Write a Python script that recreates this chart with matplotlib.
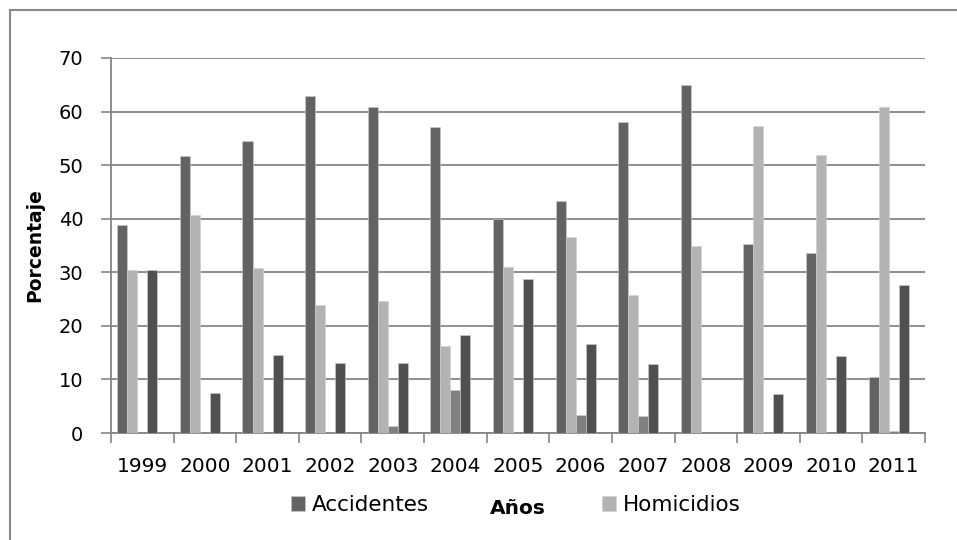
import matplotlib
matplotlib.use("Agg")
import matplotlib.pyplot as plt
import numpy as np
from matplotlib.lines import Line2D

years = ["1999", "2000", "2001", "2002", "2003", "2004", "2005", "2006",
         "2007", "2008", "2009", "2010", "2011"]
accidentes = [38.8, 51.8, 54.5, 62.9, 60.8, 57.1, 40.0, 43.3, 58.0, 65.0, 35.2, 33.7, 10.5]
homicidios = [30.5, 40.7, 30.9, 23.9, 24.6, 16.3, 31.0, 36.6, 25.7, 34.9, 57.3, 51.9, 60.9]
serie3 = [0, 0, 0, 0, 1.4, 8.1, 0, 3.3, 3.2, 0, 0, 0, 0.4]
serie4 = [30.5, 7.4, 14.5, 13.0, 13.0, 18.3, 28.8, 16.6, 12.8, 0, 7.3, 14.3, 27.7]
serie5 = [0] * 13
yticks = [0, 10, 20, 30, 40, 50, 60, 70]

plt.rcParams['font.family'] = ['DejaVu Sans']

fig = plt.figure(figsize=(9.57, 5.40), dpi=100)
ax = fig.add_axes([0.116, 0.198, 0.8505, 0.6946])

x = np.arange(len(years))
w = 0.16
series = [(accidentes, "#636363", "Accidentes"),
          (homicidios, "#b3b3b3", "Homicidios"),
          (serie3, "#808080", None),
          (serie4, "#505050", None),
          (serie5, "#9a9a9a", None)]
handles = []
for i, (vals, col, lab) in enumerate(series):
    b = ax.bar(x + (i - 2) * w, vals, width=w, color=col, zorder=3,
               edgecolor="#d0d0d0", linewidth=0.4)
    if lab:
        handles.append((b, lab))

ax.set_xlim(-0.5, 12.5)
ax.set_ylim(0, 70)
ax.set_yticks(yticks)
ax.yaxis.grid(True, color="#868686", linewidth=1.3, zorder=0)
ax.set_axisbelow(True)

ax.set_xticks(np.arange(-0.5, 13, 1))
ax.set_xticklabels([])
ax.set_xticks(x, minor=True)
ax.set_xticklabels(years, minor=True)
ax.tick_params(axis="x", which="major", length=7, width=1.2, color="#868686", direction="out")
ax.tick_params(axis="x", which="minor", length=0, labelsize=14.5, pad=17)
ax.tick_params(axis="y", length=7, width=1.2, color="#868686", labelsize=14, pad=13)

for s in ["top", "right"]:
    ax.spines[s].set_visible(False)
for s in ["left", "bottom"]:
    ax.spines[s].set_color("#868686")
    ax.spines[s].set_linewidth(1.3)

ax.set_ylabel("Porcentaje", fontsize=13.5, fontweight="bold", labelpad=10)

fig.text(0.541, 0.059, "Años", fontsize=14.5, fontweight="bold", ha="center", va="center")

fig.legend([h for h, _ in handles], [l for _, l in handles],
           loc="center", bbox_to_anchor=(0.539, 0.0648), ncol=2, frameon=False,
           fontsize=15.5, handlelength=0.68, handleheight=0.68, handletextpad=0.32,
           columnspacing=8.0, borderpad=0, borderaxespad=0)

fig.add_artist(Line2D([10 / 957, 1.0], [1 - 10 / 540, 1 - 10 / 540], transform=fig.transFigure,
                      color="#888888", linewidth=1.5))
fig.add_artist(Line2D([10 / 957, 10 / 957], [0.0, 1 - 10 / 540], transform=fig.transFigure,
                      color="#888888", linewidth=1.5))

fig.savefig("out.png", dpi=100)
